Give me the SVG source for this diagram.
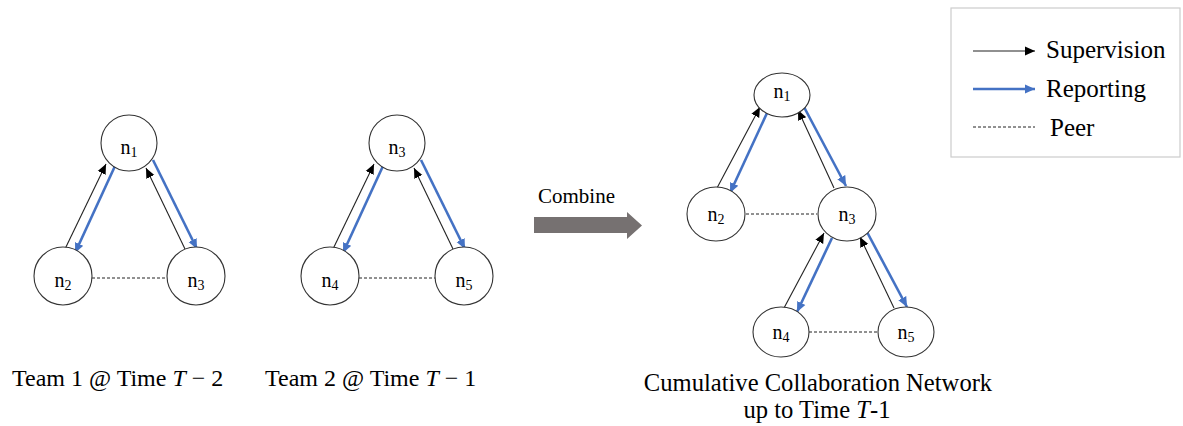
<svg xmlns="http://www.w3.org/2000/svg" width="1183" height="426" viewBox="0 0 1183 426">
<style>
text{font-family:"Liberation Serif","Times New Roman",serif;fill:#000}
.nd{fill:#fff;stroke:#333;stroke-width:1.1}
.lb{font-size:20px;text-anchor:middle}
.sb{font-size:14px}
.sup{stroke:#222;stroke-width:1.1;fill:none;marker-end:url(#mb)}
.rep{stroke:#4472C4;stroke-width:2.6;fill:none;marker-end:url(#mr)}
.peer{stroke:#222;stroke-width:1;stroke-dasharray:3 2;fill:none}
.cap{font-size:24px}
.leg{font-size:25px}
</style>
<defs>
<marker id="mb" markerUnits="userSpaceOnUse" markerWidth="12" markerHeight="10" refX="10" refY="5" orient="auto"><path d="M0,0.6 L10,5 L0,9.4 Z" fill="#000"/></marker>
<marker id="mr" markerUnits="userSpaceOnUse" markerWidth="12" markerHeight="10" refX="10" refY="5" orient="auto"><path d="M0,0.5 L10,5 L0,9.5 Z" fill="#4472C4"/></marker>
</defs>
<rect x="951" y="8" width="229" height="149" fill="#fff" stroke="#ccc" stroke-width="1.2"/>
<g id="legend">
<line class="sup" x1="973" y1="51" x2="1035" y2="51"/>
<text class="leg" x="1046" y="58">Supervision</text>
<line class="rep" x1="973" y1="89" x2="1035" y2="89"/>
<text class="leg" x="1046" y="97">Reporting</text>
<line class="peer" x1="973" y1="127" x2="1035" y2="127"/>
<text class="leg" x="1050" y="136">Peer</text>
</g>
<g id="connectors">
<line class="sup" x1="65" y1="249" x2="106" y2="164"/>
<line class="rep" x1="115" y1="166" x2="75" y2="253"/>
<line class="sup" x1="185" y1="249" x2="146" y2="168"/>
<line class="rep" x1="153" y1="160" x2="197" y2="249"/>
<line class="peer" x1="92" y1="278" x2="167" y2="278"/>
<line class="sup" x1="333" y1="249" x2="374" y2="164"/>
<line class="rep" x1="383" y1="166" x2="343" y2="253"/>
<line class="sup" x1="453" y1="249" x2="414" y2="168"/>
<line class="rep" x1="421" y1="160" x2="465" y2="249"/>
<line class="peer" x1="359" y1="278" x2="435" y2="278"/>
<line class="sup" x1="717" y1="188" x2="760" y2="107"/>
<line class="rep" x1="767" y1="113" x2="730" y2="193"/>
<line class="sup" x1="834" y1="188" x2="798" y2="110"/>
<line class="rep" x1="804" y1="107" x2="846" y2="186"/>
<line class="peer" x1="746" y1="214" x2="817" y2="214"/>
<line class="sup" x1="784" y1="308" x2="824" y2="233"/>
<line class="rep" x1="832" y1="238" x2="797" y2="312"/>
<line class="sup" x1="894" y1="308" x2="860" y2="237"/>
<line class="rep" x1="867" y1="232" x2="907" y2="307"/>
<line class="peer" x1="809" y1="332" x2="878" y2="332"/>
</g>
<g id="t1n1"><circle class="nd" cx="129" cy="143" r="28"/><text class="lb" x="129" y="154">n<tspan class="sb" dy="3">1</tspan></text></g>
<g id="t1n2"><circle class="nd" cx="63" cy="276" r="29"/><text class="lb" x="63" y="287">n<tspan class="sb" dy="3">2</tspan></text></g>
<g id="t1n3"><circle class="nd" cx="196" cy="276" r="29"/><text class="lb" x="196" y="287">n<tspan class="sb" dy="3">3</tspan></text></g>
<g id="t2n3"><circle class="nd" cx="397" cy="143" r="28"/><text class="lb" x="397" y="154">n<tspan class="sb" dy="3">3</tspan></text></g>
<g id="t2n4"><circle class="nd" cx="330" cy="276" r="29"/><text class="lb" x="330" y="287">n<tspan class="sb" dy="3">4</tspan></text></g>
<g id="t2n5"><circle class="nd" cx="464" cy="276" r="29"/><text class="lb" x="464" y="287">n<tspan class="sb" dy="3">5</tspan></text></g>
<g id="cn1"><ellipse class="nd" cx="782" cy="95" rx="28" ry="22"/><text class="lb" x="782" y="98">n<tspan class="sb" dy="3">1</tspan></text></g>
<g id="cn2"><ellipse class="nd" cx="716" cy="214" rx="29" ry="27"/><text class="lb" x="716" y="221">n<tspan class="sb" dy="3">2</tspan></text></g>
<g id="cn3"><ellipse class="nd" cx="847" cy="214" rx="29" ry="27"/><text class="lb" x="847" y="221">n<tspan class="sb" dy="3">3</tspan></text></g>
<g id="cn4"><ellipse class="nd" cx="781" cy="332" rx="28" ry="25"/><text class="lb" x="781" y="339">n<tspan class="sb" dy="3">4</tspan></text></g>
<g id="cn5"><ellipse class="nd" cx="906" cy="332" rx="28" ry="25"/><text class="lb" x="906" y="339">n<tspan class="sb" dy="3">5</tspan></text></g>
<g id="combine">
<text x="538" y="203" style="font-size:21px">Combine</text>
<path d="M534,217 H627 V212 L642,225.5 L627,239 V233 H534 Z" fill="#767171"/>
</g>
<g id="captions">
<text class="cap" x="12" y="386">Team 1 @ Time <tspan font-style="italic">T</tspan>  − 2</text>
<text class="cap" x="265" y="386">Team 2 @ Time <tspan font-style="italic">T</tspan>  − 1</text>
<text class="cap" x="818" y="391" text-anchor="middle" style="font-size:24.6px">Cumulative Collaboration Network</text>
<text class="cap" x="817" y="418" text-anchor="middle" style="font-size:24.6px">up to Time <tspan font-style="italic">T</tspan>-1</text>
</g>
</svg>
